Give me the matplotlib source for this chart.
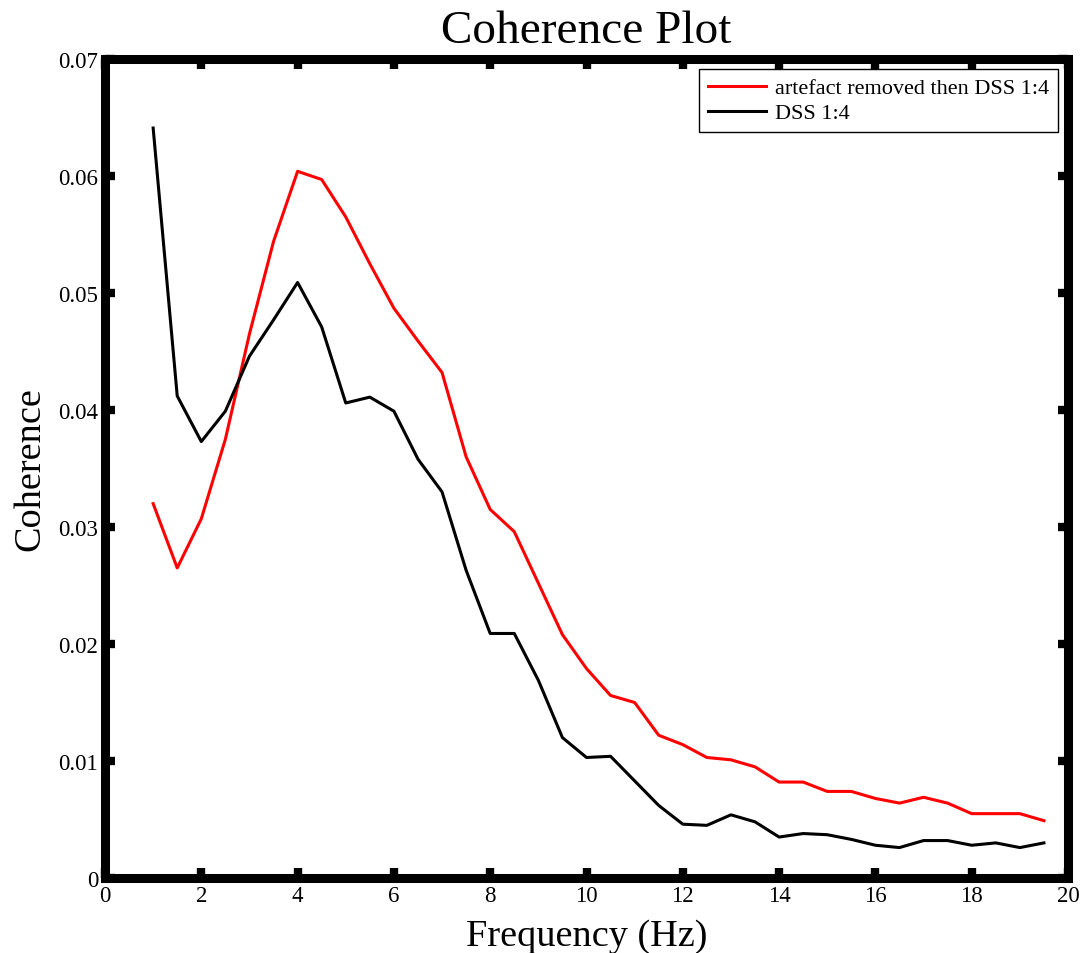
import numpy as np
import matplotlib.pyplot as plt

freq = np.arange(1, 20, 0.5)

artefact_removed = [0.0320, 0.0265, 0.0307, 0.0375, 0.0465, 0.0544, 0.0604, 0.0597,
                    0.0565, 0.0525, 0.0487, 0.0459, 0.0432, 0.0360, 0.0315, 0.0296,
                    0.0252, 0.0208, 0.0179, 0.0156, 0.0150, 0.0122, 0.0114, 0.0103,
                    0.0101, 0.0095, 0.0082, 0.0082, 0.0074, 0.0074, 0.0068, 0.0064,
                    0.0069, 0.0064, 0.0055, 0.0055, 0.0055, 0.0049]

dss = [0.0641, 0.0412, 0.0373, 0.0399, 0.0446, 0.0477, 0.0509, 0.0471,
       0.0406, 0.0411, 0.0399, 0.0358, 0.0330, 0.0263, 0.0209, 0.0209,
       0.0169, 0.0120, 0.0103, 0.0104, 0.0083, 0.0062, 0.0046, 0.0045,
       0.0054, 0.0048, 0.0035, 0.0038, 0.0037, 0.0033, 0.0028, 0.0026,
       0.0032, 0.0032, 0.0028, 0.0030, 0.0026, 0.0030]

plt.rcParams['font.family'] = ['Liberation Serif', 'DejaVu Serif']

fig = plt.figure(figsize=(10.89, 9.54), dpi=100)
ax = fig.add_axes([105 / 1089, 1 - 879 / 954, 963 / 1089, 819 / 954])

ax.plot(freq, artefact_removed, color='red', lw=2.2, label='artefact removed then DSS 1:4')
ax.plot(freq, dss, color='black', lw=2.2, label='DSS 1:4')

ax.set_xlim(0, 20)
ax.set_ylim(0, 0.07)
ax.set_xticks(np.arange(0, 21, 2))
ax.set_yticks(np.arange(0, 0.071, 0.01))
ax.set_yticklabels(['0', '0.01', '0.02', '0.03', '0.04', '0.05', '0.06', '0.07'])

for side in ax.spines.values():
    side.set_linewidth(6.5)
ax.tick_params(direction='in', length=7, width=6, labelsize=16.5,
               top=True, right=True, pad=5)

ax.set_title('Coherence Plot', fontsize=34, pad=12)
ax.set_xlabel('Frequency (Hz)', fontsize=27.5, labelpad=9)
ax.set_ylabel('Coherence', fontsize=27.5, labelpad=8)

leg = ax.legend(loc='upper right', fontsize=16, fancybox=False, framealpha=1,
                edgecolor='black', borderaxespad=0.45, handlelength=2.6,
                handletextpad=0.4, borderpad=0.4, labelspacing=0.2)
leg.get_frame().set_linewidth(1)

fig.savefig('out.png')
